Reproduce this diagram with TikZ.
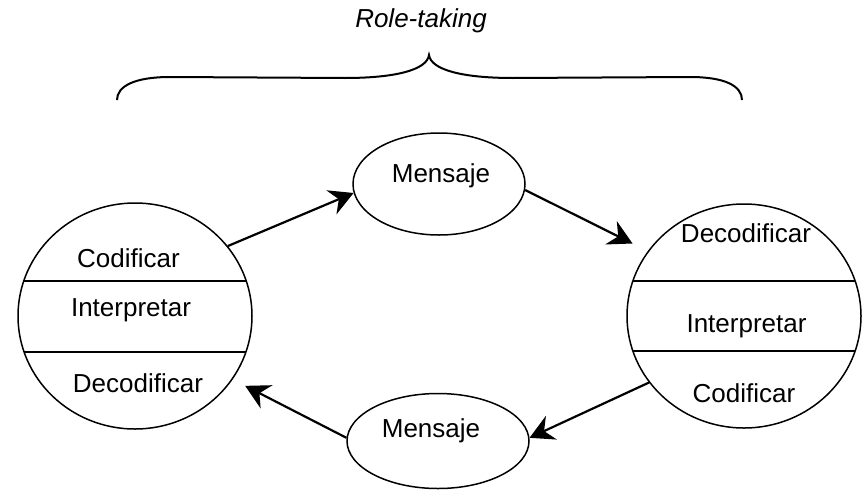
\documentclass[tikz,border=0pt]{standalone}
\usepackage{fontspec}
\setmainfont{Liberation Sans}
\usetikzlibrary{shapes.geometric,arrows.meta}
\tikzset{
  shp/.style={draw, line width=1.5pt, ellipse, inner sep=0pt},
  lbl/.style={inner sep=0pt, anchor=base, font=\fontsize{26}{31}\selectfont},
  arr/.style={line width=2.2pt, -{Stealth[length=24pt,width=26pt,inset=8pt]}},
  chord/.style={line width=1.5pt},
  bracestyle/.style={line width=2pt}
}
\begin{document}
\begin{tikzpicture}[x=1pt,y=-1pt]
\useasboundingbox (0,0) rectangle (866,490);
% shapes
\node[shp, minimum width=234pt, minimum height=226pt] (L) at (135,316) {};
\node[shp, minimum width=234pt, minimum height=224pt] (R) at (744,316) {};
\node[shp, minimum width=172pt, minimum height=102pt] (M1) at (439,184) {};
\node[shp, minimum width=182pt, minimum height=95pt] (M2) at (438,441) {};
% chords
\begin{scope}
  \clip (L.center) ellipse [x radius=117pt, y radius=113pt];
  \draw[chord] (0,281) -- (300,281) (0,352) -- (300,352);
\end{scope}
\begin{scope}
  \clip (R.center) ellipse [x radius=117pt, y radius=112pt];
  \draw[chord] (600,281) -- (866,281) (600,351) -- (866,351);
\end{scope}
% texts
\node[lbl] (lc) at (128.5,267) {Codificar};
\node[lbl] (li) at (131,316) {Interpretar};
\node[lbl] (ld) at (138,392) {Decodificar};
\node[lbl] (rd) at (746,242) {Decodificar};
\node[lbl] (ri) at (746.5,332) {Interpretar};
\node[lbl] (rc) at (744,402) {Codificar};
\node[lbl] (m1t) at (441,182) {Mensaje};
\node[lbl] (m2t) at (431,437) {Mensaje};
\node[lbl, font=\fontsize{26}{31}\selectfont\itshape] (rt) at (421,27) {Role-taking};
% arrows
\draw[arr] (L.37) -- (M1.186);
\draw[arr, shorten >=17pt] (M1.-4) -- (R.146);
\draw[arr] (R.215) -- (M2.2);
\draw[arr, shorten >=14pt] (M2.178) -- (L.-33);
% brace
\draw[bracestyle] (117,100) .. controls (117,86) and (135,77) .. (170,77) -- (345,78)
  .. controls (395,78) and (427,70) .. (429,55)
  .. controls (431,70) and (463,78) .. (513,78) -- (690,77)
  .. controls (725,77) and (742,86) .. (742,100);
\end{tikzpicture}
\end{document}
